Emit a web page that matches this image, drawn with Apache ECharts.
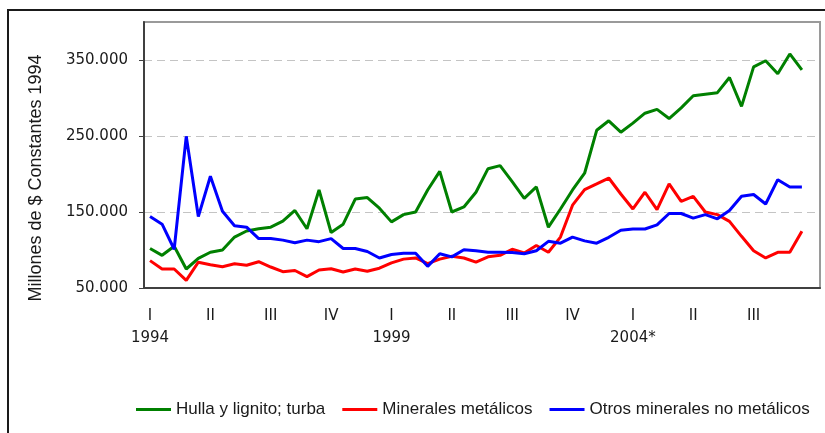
<!DOCTYPE html>
<html>
<head>
<meta charset="utf-8">
<script src="https://cdn.jsdelivr.net/npm/echarts@6/dist/echarts.min.js"></script>
<style>
  html, body { margin: 0; padding: 0; background: #fff; }
  #chart { width: 825px; height: 433px; }
</style>
</head>
<body>
<div id="chart"></div>
<script>
// trimestres 1994-I .. 2007-IV
var startYear = 1994;
var quarterNames = ['I', 'II', 'III', 'IV'];
var yearLabels = ['1994', '1999', '2004*']; // cada 20 trimestres

// Millones de $ constantes 1994
var hulla = [102000, 93000, 105000, 75000, 89000, 97000, 100000, 117000, 125000, 128000,
  130000, 138000, 152000, 128000, 179000, 123000, 134000, 167000, 169000, 155000,
  137000, 146500, 150000, 179000, 203500, 150000, 156600, 176000, 207000, 211000,
  190000, 168000, 183000, 130000, 154000, 179000, 201000, 257500, 270000, 255000,
  267000, 280000, 285000, 273000, 287000, 303000, 305000, 307000, 327000, 289000,
  341000, 349000, 332000, 358000, 337000];
var metalicos = [86000, 75000, 75000, 60000, 84000, 80700, 78000, 82000, 80000, 84600,
  77600, 71500, 73000, 65000, 73700, 75400, 71000, 75000, 72000, 76000,
  83000, 88000, 89500, 82000, 88000, 91700, 89500, 84000, 91000, 93000,
  101000, 96000, 106000, 97000, 117000, 159000, 179500, 187000, 194700, 173700,
  154000, 176000, 153000, 187000, 164000, 170600, 150000, 146500, 137700, 118000,
  99000, 89500, 97000, 97000, 124600];
var noMetalicos = [144000, 134000, 101000, 249600, 144000, 197000, 151000, 132000, 130000, 115000,
  115000, 113000, 109600, 113000, 111000, 115000, 102000, 102000, 98000, 89500,
  94000, 95600, 95600, 78500, 95000, 91000, 100400, 99000, 97000, 97000,
  96600, 95000, 99000, 111400, 109000, 117000, 112000, 109000, 116700, 126000,
  127600, 127600, 133000, 148000, 148000, 142000, 146500, 141000, 152000, 170600,
  173000, 160500, 192500, 183000, 183000];

var categories = [];
for (var y = startYear; y <= 2007; y++) {
  for (var q = 0; q < 4; q++) {
    categories.push(y + '-' + quarterNames[q]);
  }
}

function miles(v) {
  var s = String(Math.round(v));
  return s.replace(/\B(?=(\d{3})+(?!\d))/g, '.');
}

var myChart = echarts.init(document.getElementById('chart'));
var option = {
  animation: false,
  color: ['#008000', '#ff0000', '#0000ff'],
  graphic: [{
    type: 'rect',
    shape: { x: 8, y: 10, width: 840, height: 450 },
    style: { fill: null, stroke: '#1a1a1a', lineWidth: 2 }
  }, {
    type: 'text',
    x: 36,
    y: 178,
    rotation: Math.PI / 2,
    style: {
      text: 'Millones de $ Constantes 1994',
      fontFamily: 'Liberation Sans',
      fontSize: 18,
      fill: '#1a1a1a',
      align: 'center',
      verticalAlign: 'middle'
    }
  }],
  legend: {
    left: 131,
    top: 396,
    icon: 'rect',
    itemWidth: 35,
    itemHeight: 3,
    itemGap: 17,
    textStyle: {
      fontFamily: 'Liberation Sans',
      fontSize: 17,
      color: '#1a1a1a'
    },
    data: ['Hulla y lignito; turba', 'Minerales metálicos', 'Otros minerales no metálicos']
  },
  grid: {
    left: 144,
    right: 5,
    top: 22,
    bottom: 145,
    show: true,
    borderColor: '#9a9a9a',
    borderWidth: 2
  },
  xAxis: {
    type: 'category',
    boundaryGap: true,
    data: categories,
    axisLine: { lineStyle: { color: '#404040', width: 2 } },
    axisTick: { show: false },
    axisLabel: {
      interval: 4,
      margin: 17,
      showMaxLabel: false,
      fontFamily: 'DejaVu Sans',
      fontSize: 15,
      lineHeight: 22,
      color: '#1a1a1a',
      formatter: function (value, index) {
        if (index >= hulla.length) {
          return '';
        }
        var q = quarterNames[index % 4];
        if (index % 20 === 0) {
          return q + '\n' + yearLabels[index / 20];
        }
        return q;
      }
    }
  },
  yAxis: {
    type: 'value',
    min: 50000,
    max: 400000,
    interval: 100000,
    axisLine: { show: true, lineStyle: { color: '#404040', width: 2 } },
    axisTick: { show: true, length: 5, lineStyle: { color: '#404040' } },
    splitLine: {
      showMinLine: false,
      showMaxLine: false,
      lineStyle: { color: '#c4c4c4', type: [8, 5] }
    },
    axisLabel: {
      margin: 16,
      showMaxLabel: false,
      fontFamily: 'DejaVu Sans',
      fontSize: 15,
      color: '#1a1a1a',
      formatter: miles
    }
  },
  series: [{
    name: 'Hulla y lignito; turba',
    type: 'line',
    symbol: 'none',
    lineStyle: { width: 3 },
    data: hulla
  }, {
    name: 'Minerales metálicos',
    type: 'line',
    symbol: 'none',
    lineStyle: { width: 3 },
    data: metalicos
  }, {
    name: 'Otros minerales no metálicos',
    type: 'line',
    symbol: 'none',
    lineStyle: { width: 3 },
    data: noMetalicos
  }]
};
myChart.setOption(option);
</script>
</body>
</html>
